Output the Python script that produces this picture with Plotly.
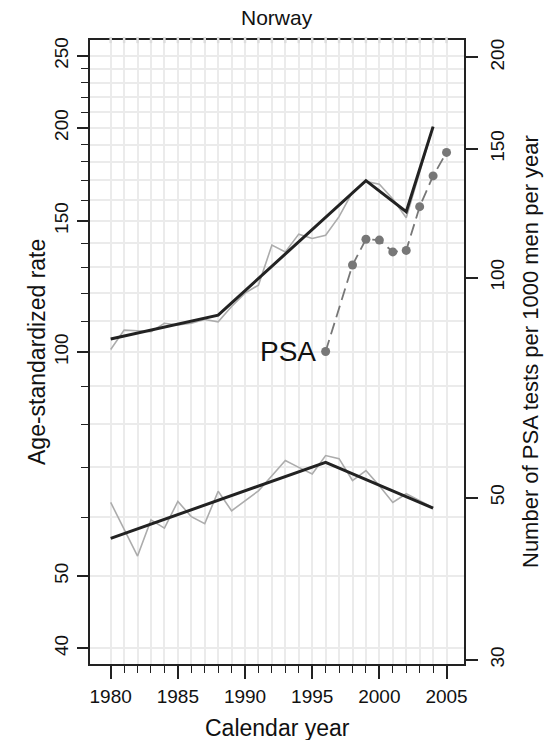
import math
import plotly.graph_objects as go

# ---------------- data ----------------
years = list(range(1980, 2005))
upper_observed = [100.8, 107.0, 106.8, 106.5, 109.3, 108.7, 109.3, 110.6, 109.8, 115.1,
                  120.0, 123.0, 139.2, 136.3, 144.0, 142.1, 143.5, 152.0, 164.0, 169.5,
                  168.0, 160.5, 151.5, 175.0, 200.8]
lower_observed = [62.8, 57.8, 53.2, 59.5, 58.0, 63.0, 60.1, 58.8, 65.0, 61.2,
                  63.2, 65.1, 68.2, 71.5, 70.0, 68.6, 72.6, 71.9, 67.2, 69.3,
                  66.1, 62.8, 64.5, 63.2, 61.8]

upper_fit_years = [1980, 1988, 1999, 2002, 2004]
upper_fit = [104.1, 112.1, 169.9, 154.3, 200.8]
lower_fit_years = [1980, 1996, 2004]
lower_fit = [56.2, 71.1, 61.7]

psa_years = [1996, 1998, 1999, 2000, 2001, 2002, 2003, 2004, 2005]
psa_tests = [79.2, 104.0, 112.8, 112.5, 108.4, 108.9, 125.0, 137.7, 148.3]

x_major = [1980, 1985, 1990, 1995, 2000, 2005]
x_minor = list(range(1980, 2006))
y_major = [40, 50, 100, 150, 200, 250]
y_minor = [60, 70, 80, 90, 110, 120, 130, 140, 160, 170, 180, 190, 210, 220, 230, 240]
y2_ticks = [30, 50, 100, 150, 200]

# ---------------- styles ----------------
FONT = "Liberation Sans, Arial, Helvetica, sans-serif"
GRID = "#ebebeb"
FRAME = "#222222"

fig = go.Figure()

fig.add_trace(go.Scatter(x=years, y=upper_observed, mode="lines",
                         line=dict(color="#acacac", width=1.6), showlegend=False))
fig.add_trace(go.Scatter(x=years, y=lower_observed, mode="lines",
                         line=dict(color="#acacac", width=1.6), showlegend=False))
fig.add_trace(go.Scatter(x=upper_fit_years, y=upper_fit, mode="lines",
                         line=dict(color="#222222", width=3), showlegend=False))
fig.add_trace(go.Scatter(x=lower_fit_years, y=lower_fit, mode="lines",
                         line=dict(color="#222222", width=3), showlegend=False))
fig.add_trace(go.Scatter(x=psa_years, y=psa_tests, mode="lines+markers", yaxis="y2",
                         line=dict(color="#777777", width=1.8, dash="12px,6px"),
                         marker=dict(color="#777777", size=9, symbol="circle"),
                         showlegend=False))

# grid crossings on top border (makes the border look dashed like the reference)
for yr in x_minor:
    fig.add_shape(type="line", xref="x", yref="paper", x0=yr, x1=yr, y0=0.995, y1=1.005,
                  line=dict(color="#dddddd", width=2.5), layer="above")

ylo, yhi = 38.1, 262.5
y2lo, y2hi = 29.6, 211.3

fig.update_layout(
    width=546, height=740,
    margin=dict(l=90, r=82, t=40, b=76),
    paper_bgcolor="white", plot_bgcolor="white",
    font=dict(family=FONT, color="#111111", size=19),
    xaxis=dict(range=[1978.46, 2006.3], tickmode="array", tickvals=x_major,
               ticktext=[str(v) for v in x_major],
               ticks="outside", ticklen=13, tickwidth=1.5, tickcolor=FRAME,
               showgrid=True, gridcolor=GRID, gridwidth=2,
               minor=dict(tickmode="array", tickvals=x_minor, ticks="outside", ticklen=7,
                          tickwidth=1.3, tickcolor=FRAME, showgrid=True, gridcolor=GRID, gridwidth=2),
               showline=True, linecolor=FRAME, linewidth=1.5, mirror=True,
               zeroline=False, tickfont=dict(size=19), ticklabelstandoff=1),
    yaxis=dict(type="log", range=[math.log10(ylo), math.log10(yhi)],
               tickmode="array", tickvals=y_major, ticktext=[str(v) for v in y_major],
               ticks="outside", ticklen=11, tickwidth=1.5, tickcolor=FRAME, tickangle=-90,
               showgrid=True, gridcolor=GRID, gridwidth=2,
               minor=dict(tickmode="array", tickvals=y_minor, ticks="outside", ticklen=7,
                          tickwidth=1.3, tickcolor=FRAME, showgrid=True, gridcolor=GRID, gridwidth=2),
               showline=True, linecolor=FRAME, linewidth=1.5,
               zeroline=False, tickfont=dict(size=19), ticklabelstandoff=2),
    yaxis2=dict(type="log", range=[math.log10(y2lo), math.log10(y2hi)], overlaying="y", side="right",
                tickmode="array", tickvals=y2_ticks, ticktext=[str(v) for v in y2_ticks],
                ticks="outside", ticklen=12, tickwidth=1.5, tickcolor=FRAME, tickangle=-90,
                showgrid=False, showline=True, linecolor=FRAME, linewidth=1.5,
                zeroline=False, tickfont=dict(size=19), ticklabelstandoff=3),
    annotations=[
        dict(text="Norway", xref="paper", yref="paper", x=0.5, y=1, yshift=23,
             showarrow=False, font=dict(size=21), xanchor="center", yanchor="middle"),
        dict(text="Calendar year", xref="paper", yref="paper", x=0.5, y=0, yshift=-64,
             showarrow=False, font=dict(size=23), xanchor="center", yanchor="middle"),
        dict(text="Age-standardized rate", xref="paper", yref="paper", x=0, xshift=-53, y=0.5,
             textangle=-90, showarrow=False, font=dict(size=23), xanchor="center", yanchor="middle"),
        dict(text="Number of PSA tests per 1000 men per year", xref="paper", yref="paper",
             x=1, xshift=66, y=0.5, textangle=-90, showarrow=False, font=dict(size=22),
             xanchor="center", yanchor="middle"),
        dict(text="PSA", xref="x", yref="y2", x=psa_years[0], y=math.log10(psa_tests[0]),
             xshift=-8, xanchor="right", yanchor="middle", showarrow=False, font=dict(size=28)),
    ],
)

fig.write_html("out.html", config={"displayModeBar": False},
               post_script="document.body.style.margin='0';")
